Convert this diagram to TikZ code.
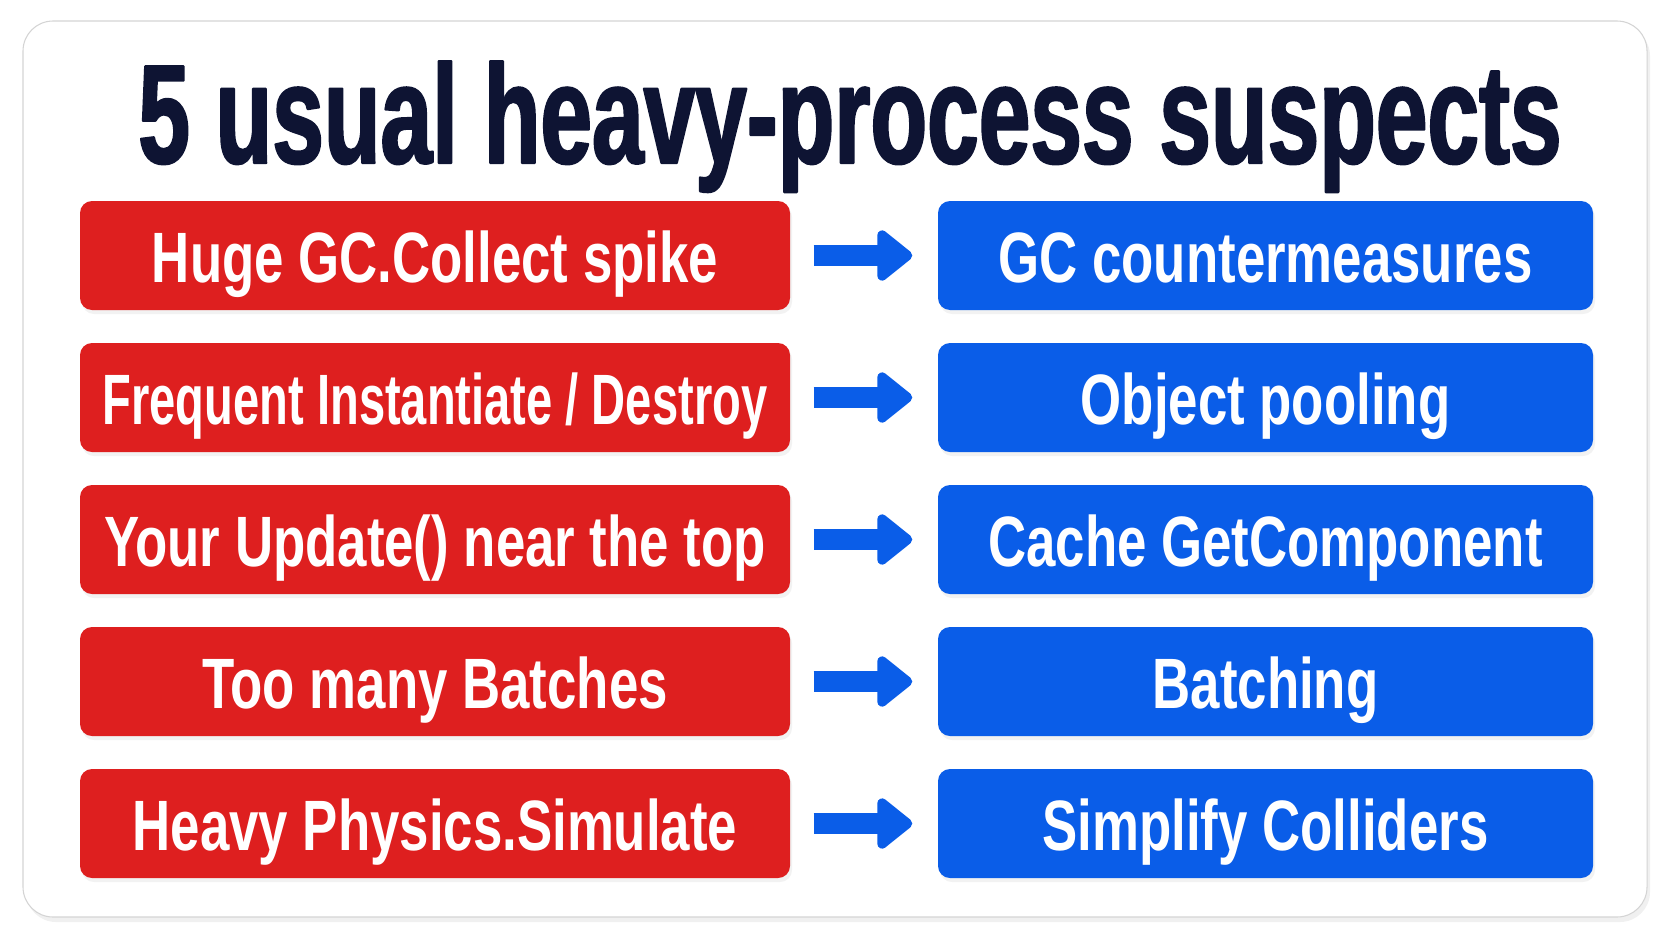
\documentclass[tikz,border=0pt]{standalone}
\usepackage{fontspec}
\setmainfont{Liberation Sans}
\newfontfamily\rowfont{Liberation Sans}[FakeStretch=0.74]
\newfontfamily\tightfont{Liberation Sans}[FakeStretch=0.66]
\newfontfamily\headfont{Liberation Sans}[FakeStretch=0.66, FakeBold=1.6]
\usetikzlibrary{arrows.meta,shadows}
\definecolor{suspectred}{HTML}{DE1F1F}
\definecolor{fixblue}{HTML}{0A5DE8}
\definecolor{titlenavy}{HTML}{0E1433}
\definecolor{cardedge}{HTML}{D4D4D4}
\tikzset{
  every picture/.style={line join=round},
  card/.style={draw=cardedge, line width=0.3pt, fill=white, rounded corners=0.3cm,
    drop shadow={opacity=0.12, shadow xshift=0.03cm, shadow yshift=-0.05cm}},
  suspect/.style={fill=suspectred, text=white, rounded corners=0.12cm,
    minimum width=7.10cm, minimum height=1.09cm, inner sep=0pt,
    text height=0.53cm, text depth=0cm,
    font=\rowfont\bfseries\fontsize{20.3}{22}\selectfont,
    drop shadow={opacity=0.10, shadow xshift=0.02cm, shadow yshift=-0.04cm}},
  squeezed/.style={font=\tightfont\bfseries\fontsize{20.3}{22}\selectfont},
  remedy/.style={suspect, fill=fixblue, minimum width=6.55cm},
  fixarrow/.style={draw=fixblue, line width=0.21cm,
    -{Triangle[round, length=0.38cm, width=0.58cm]},
    shorten <=0.23cm, shorten >=0.25cm},
}
\begin{document}
\begin{tikzpicture}
\useasboundingbox (0,0) rectangle (16.72,-9.41);
% Card
\path[card] (0.23,-0.21) rectangle (16.47,-9.17);
\node[anchor=base, text=titlenavy, font=\headfont\bfseries\fontsize{40}{44}\selectfont] (title) at (8.50,-1.63) {5 usual heavy-process suspects};

% Suspects (left)
\node[suspect] (s1) at (4.35,-2.555) {Huge GC.Collect spike};
\node[suspect, squeezed] (s2) at (4.35,-3.975) {Frequent Instantiate / Destroy};
\node[suspect] (s3) at (4.35,-5.395) {Your Update() near the top};
\node[suspect] (s4) at (4.35,-6.815) {Too many Batches};
\node[suspect] (s5) at (4.35,-8.235) {Heavy Physics.Simulate};

% Remedies (right)
\node[remedy] (r1) at (12.655,-2.555) {GC countermeasures};
\node[remedy] (r2) at (12.655,-3.975) {Object pooling};
\node[remedy] (r3) at (12.655,-5.395) {Cache GetComponent};
\node[remedy] (r4) at (12.655,-6.815) {Batching};
\node[remedy] (r5) at (12.655,-8.235) {Simplify Colliders};

% Arrows
\foreach \i in {1,...,5}
  \draw[fixarrow] (s\i) -- (r\i);
\end{tikzpicture}
\end{document}
